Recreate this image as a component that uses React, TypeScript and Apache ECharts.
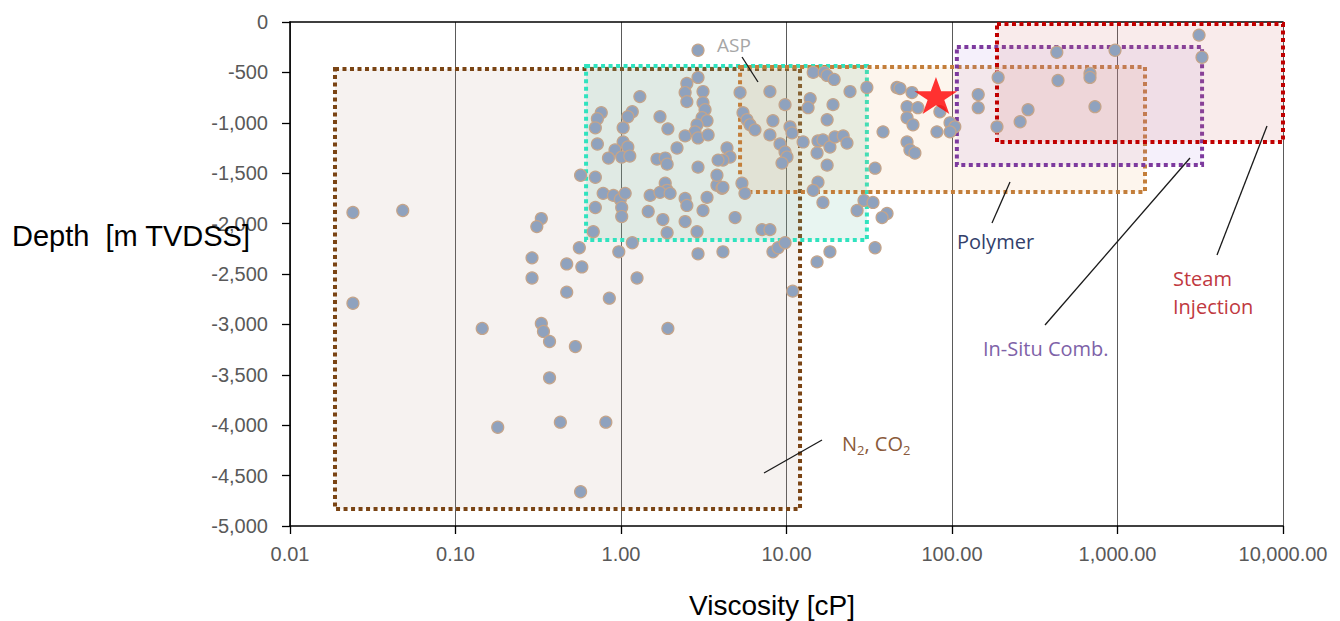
import React, { useEffect, useRef } from "react";
import * as echarts from "echarts";

// ---- Data ----
const pointViscosity = [
  0.024, 0.048, 0.024, 0.33, 0.31, 0.29, 0.29, 0.56, 0.47, 0.58, 0.47, 0.85, 1.25, 0.97, 1.17,
  0.145, 0.33, 0.34, 0.37, 0.53, 1.92, 0.37, 0.18, 0.43, 0.81, 0.57, 2.92, 4.13, 8.28, 8.9, 9.8,
  10.9, 15.3, 18.3, 34.3, 0.57, 0.7, 0.68,
  2.92, 2.92, 2.5, 2.44, 2.5, 3.13, 3.13, 3.22, 3.09, 3.31, 1.3, 0.76, 0.72, 0.7, 1.17, 1.1, 1.72,
  1.92, 1.03, 2.88, 2.8, 2.92, 3.36, 2.44, 0.72, 1.03, 1.1, 0.92, 0.84, 1.01, 1.13, 2.18, 1.65,
  1.85, 1.9, 4.37, 4.56, 4.13, 3.86, 2.92, 1.85, 1.9, 3.8, 4.08, 0.78, 0.9, 0.99, 1.06, 1.5, 1.72,
  1.98, 3.31, 2.44, 2.5, 0.7, 1.01, 1.46, 3.13, 1.01, 1.79, 4.89, 2.44, 1.9, 2.88,
  5.24, 7.94, 5.46, 5.77, 6.02, 6.45, 8.28, 9.8, 7.94, 9.14, 9.8, 10.07, 9.39, 10.5, 10.8, 12.6,
  13.9, 13.5, 14.5, 16.9, 17.6, 19.4, 17.6, 19.1, 24.2, 15.5, 16.6, 18.3, 19.6, 22, 23.2, 15.3,
  17.6, 15.5, 14.5, 30.6, 46.5, 38.3, 34.3, 16.6, 29.4, 33.3, 40.5, 37.8, 26.7, 5.38, 5.61, 3.8,
  4.13, 7.11, 7.94,
  48.5, 57.3, 53.5, 62.2, 53.5, 58.1, 84.5, 81.1, 97.3, 104, 97.3, 53.5, 55.7, 59.7, 144, 144, 187,
  190, 258, 288, 430, 437, 682, 682, 731, 966, 3110, 3240,
];
const pointDepth = [
  -1890, -1870, -2790, -1950, -2030, -2340, -2540, -2240, -2400, -2430, -2680, -2740, -2540, -2280, -2190,
  -3040, -2990, -3070, -3170, -3220, -3040, -3530, -4020, -3970, -3970, -4660, -2300, -2280, -2280, -2240, -2190,
  -2670, -2380, -2280, -2240, -1520, -1540, -2080,
  -280, -550, -610, -700, -790, -690, -800, -870, -950, -980, -740, -900, -960, -1050, -890, -940, -940,
  -1060, -1050, -1020, -1090, -1150, -1120, -1130, -1210, -1190, -1240, -1270, -1350, -1340, -1330, -1250, -1360,
  -1350, -1410, -1250, -1340, -1370, -1370, -1440, -1600, -1670, -1620, -1650, -1700, -1720, -1760, -1700, -1720, -1690,
  -1700, -1740, -1750, -1820, -1840, -1840, -1880, -1870, -1930, -1960, -1940, -1980, -2090, -2080,
  -700, -690, -900, -970, -1020, -1070, -980, -820, -1120, -1210, -1290, -1340, -1400, -1040, -1100, -1190,
  -760, -850, -500, -500, -530, -570, -970, -820, -690, -1180, -1170, -1240, -1140, -1130, -1200, -1300,
  -1420, -1590, -1670, -650, -650, -1090, -1450, -1790, -1770, -1790, -1900, -1940, -1870, -1600, -1700, -1520,
  -1640, -2060, -2060,
  -660, -700, -840, -850, -950, -1020, -890, -1090, -1000, -1040, -1090, -1190, -1270, -1300, -720, -850, -1040,
  -550, -990, -870, -300, -580, -510, -550, -840, -280, -130, -350,
];

const boxNames = ["N2, CO2", "ASP", "Polymer", "In-Situ Comb.", "Steam Injection"];
const boxViscosityMin = [0.0187, 0.615, 5.24, 107, 187];
const boxViscosityMax = [12.07, 30.6, 1466, 3243, 10000];
const boxDepthTop = [-466, -436, -446, -248, -20];
const boxDepthBottom = [-4831, -2163, -1686, -1419, -1190];

const starPoint = [80, -730];

// ---- Styles ----
const boxBorder = ["#7A4414", "#30E3BF", "#C37E3A", "#7D3A9E", "#C00000"];
const boxFill = [
  "rgba(180,145,130,0.12)",
  "rgba(110,195,165,0.16)",
  "rgba(240,170,110,0.12)",
  "rgba(170,130,220,0.12)",
  "rgba(215,110,115,0.14)",
];
const STAR =
  "path://M50,0 L61.8,35.1 L98.8,35.1 L68.9,56.9 L80.3,91.9 L50,70.2 L19.7,91.9 L31.1,56.9 L1.2,35.1 L38.2,35.1 Z";
const AX_FONT = "'Liberation Sans', Arial, sans-serif";
const ANN_FONT = "'Open Sans', 'Noto Sans', sans-serif";

export default function App() {
  const ref = useRef<HTMLDivElement>(null);
  useEffect(() => {
    if (!ref.current) return;
    const chart = echarts.init(ref.current, undefined, { renderer: "svg" });
    const points = pointViscosity.map((v, i) => [v, pointDepth[i]]);
    const areas = boxNames.map((n, i) => [
      {
        name: n,
        xAxis: boxViscosityMin[i],
        yAxis: boxDepthTop[i],
        itemStyle: {
          color: boxFill[i],
          borderColor: boxBorder[i],
          borderWidth: 4,
          borderType: [4, 3.5],
        },
      },
      { xAxis: boxViscosityMax[i], yAxis: boxDepthBottom[i] },
    ]);
    const line = (x1: number, y1: number, x2: number, y2: number) => ({
      type: "line",
      z: 100,
      shape: { x1, y1, x2, y2 },
      style: { stroke: "#1a1a1a", lineWidth: 1.3 },
    });
    const text = (t: string, x: number, y: number, color: string, align = "left", size = 20, font = ANN_FONT) => ({
      type: "text",
      z: 100,
      x,
      y,
      style: { text: t, fill: color, fontSize: size, fontFamily: font, align, verticalAlign: "middle" },
    });
    chart.setOption({
      animation: false,
      backgroundColor: "#ffffff",
      grid: { left: 290, right: 57, top: 22, bottom: 95 },
      xAxis: [
        {
          type: "log",
          logBase: 10,
          min: 0.01,
          max: 10000,
          position: "bottom",
          axisLine: { onZero: false, lineStyle: { color: "#000", width: 1.6 } },
          axisTick: { show: true, length: 8, lineStyle: { color: "#000", width: 1.3 } },
          axisLabel: {
            color: "#595959",
            fontSize: 20,
            fontFamily: AX_FONT,
            margin: 18,
            formatter: (v: number) =>
              v.toLocaleString("en-US", { minimumFractionDigits: 2, maximumFractionDigits: 2 }),
          },
          splitLine: { show: true, lineStyle: { color: "#5a5a5a", width: 1 } },
        },
        {
          type: "log",
          logBase: 10,
          min: 0.01,
          max: 10000,
          position: "top",
          axisLine: { show: true, onZero: false, lineStyle: { color: "#000", width: 1.6 } },
          axisTick: { show: false },
          axisLabel: { show: false },
          splitLine: { show: false },
        },
      ],
      yAxis: {
        type: "value",
        min: -5000,
        max: 0,
        interval: 500,
        axisLine: { show: true, onZero: false, lineStyle: { color: "#000", width: 1.6 } },
        axisTick: { show: true, length: 8, lineStyle: { color: "#000", width: 1.3 } },
        axisLabel: {
          color: "#595959",
          fontSize: 20,
          fontFamily: AX_FONT,
          margin: 22,
          formatter: (v: number) => (v === 0 ? "0" : v.toLocaleString("en-US")),
        },
        splitLine: { show: false },
      },
      series: [
        {
          type: "scatter",
          name: "Fields",
          data: points,
          symbolSize: 12,
          z: 3,
          itemStyle: { color: "#8FA2BE", borderColor: "#C4A48A", borderWidth: 1.2, opacity: 1 },
          markArea: { silent: true, label: { show: false }, data: areas },
        },
        {
          type: "scatter",
          name: "Target",
          data: [starPoint],
          symbol: STAR,
          symbolSize: [43, 37],
          z: 4,
          itemStyle: { color: "#FF0000" },
        },
      ],
      graphic: [
        text("Depth\u00a0\u00a0[m TVDSS]", 12, 236, "#000", "left", 29, AX_FONT),
        text("Viscosity [cP]", 772, 605, "#000", "center", 28, AX_FONT),
        text("ASP", 734, 45, "#A6A6A6", "center", 19),
        line(742, 57, 758, 82),
        text("Polymer", 957, 241, "#333F6B"),
        line(1010, 182, 992, 223),
        text("In-Situ Comb.", 983, 348, "#7E62A8"),
        line(1190, 158, 1045, 325),
        text("Steam", 1173, 278, "#C0393F"),
        text("Injection", 1173, 306, "#C0393F"),
        line(1267, 126, 1217, 255),
        {
          type: "text",
          z: 100,
          x: 842,
          y: 443,
          style: {
            text: "N{s|2}, CO{s|2}",
            fill: "#8A5A3A",
            fontSize: 20,
            fontFamily: ANN_FONT,
            verticalAlign: "middle",
            lineHeight: 26,
            rich: { s: { fontSize: 13, fontFamily: ANN_FONT, fill: "#8A5A3A", verticalAlign: "bottom", lineHeight: 13 } },
          },
        },
        line(822, 440, 764, 473),
      ],
    });
    return () => chart.dispose();
  }, []);
  return (
    <div
      ref={ref}
      style={{ position: "fixed", left: 0, top: 0, width: 1340, height: 621, background: "#fff" }}
    />
  );
}
